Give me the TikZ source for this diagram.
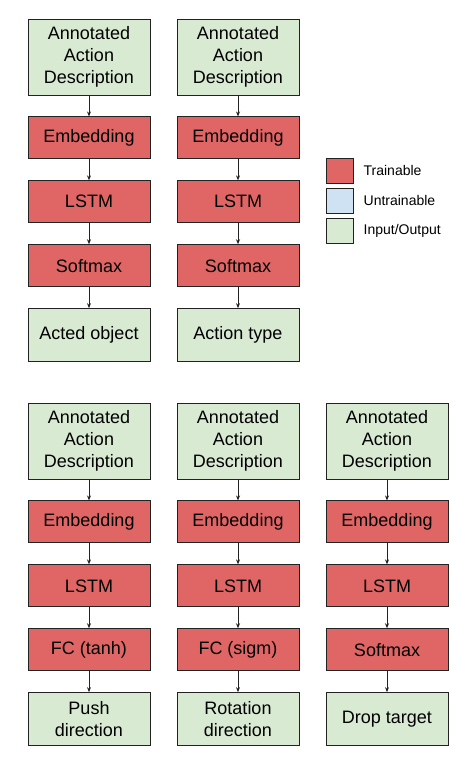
\documentclass[tikz,border=0pt]{standalone}
\usepackage{xcolor}
\usepackage{fontspec}
\setmainfont{Liberation Sans}
\usetikzlibrary{positioning,arrows.meta}
\definecolor{TrainRed}{HTML}{E06666}
\definecolor{FrozenBlue}{HTML}{CFE2F3}
\definecolor{IoGreen}{HTML}{D9EAD3}
\definecolor{EdgeGray}{HTML}{222222}

\tikzset{
  layer/.style={draw=EdgeGray, line width=0.9pt, minimum width=122pt,
                minimum height=42pt, inner sep=0pt, align=center,
                font=\fontsize{18}{22}\selectfont},
  trainbox/.style={layer, fill=TrainRed},
  inbox/.style={layer, fill=IoGreen, minimum height=76pt},
  outbox/.style={layer, fill=IoGreen, minimum height=53pt},
  flow/.style={-{Stealth[length=5pt,width=4pt]}, line width=0.8pt, EdgeGray},
  legbox/.style={draw=EdgeGray, line width=0.9pt, minimum width=27pt,
                 minimum height=25pt, inner sep=0pt},
  legtext/.style={anchor=west, inner sep=0pt, font=\fontsize{14}{16}\selectfont}
}

\begin{document}
\begin{tikzpicture}[x=1pt, y=-1pt, node distance=21pt]
  \useasboundingbox (0,0) rectangle (475,767);

  % top row: object and type
  \node[inbox] (objIn) at (89,57) {Annotated\\Action\\Description};
  \node[trainbox, below=of objIn] (objEmb) {Embedding};
  \node[trainbox, below=of objEmb] (objLstm) {LSTM};
  \node[trainbox, below=of objLstm] (objSoft) {Softmax};
  \node[outbox, below=of objSoft] (objOut) {Acted object};

  \node[inbox] (typIn) at (238,57) {Annotated\\Action\\Description};
  \node[trainbox, below=of typIn] (typEmb) {Embedding};
  \node[trainbox, below=of typEmb] (typLstm) {LSTM};
  \node[trainbox, below=of typLstm] (typSoft) {Softmax};
  \node[outbox, below=of typSoft] (typOut) {Action type};

  % bottom row: push, rotation, drop
  \node[inbox] (pshIn) at (89,441) {Annotated\\Action\\Description};
  \node[trainbox, below=of pshIn] (pshEmb) {Embedding};
  \node[trainbox, below=of pshEmb] (pshLstm) {LSTM};
  \node[trainbox, below=of pshLstm] (pshFc) {FC (tanh)};
  \node[outbox, below=of pshFc] (pshOut) {Push\\direction};

  \node[inbox] (rotIn) at (238,441) {Annotated\\Action\\Description};
  \node[trainbox, below=of rotIn] (rotEmb) {Embedding};
  \node[trainbox, below=of rotEmb] (rotLstm) {LSTM};
  \node[trainbox, below=of rotLstm] (rotFc) {FC (sigm)};
  \node[outbox, below=of rotFc] (rotOut) {Rotation\\direction};

  \node[inbox] (drpIn) at (387,441) {Annotated\\Action\\Description};
  \node[trainbox, below=of drpIn] (drpEmb) {Embedding};
  \node[trainbox, below=of drpEmb] (drpLstm) {LSTM};
  \node[trainbox, below=of drpLstm] (drpSoft) {Softmax};
  \node[outbox, below=of drpSoft] (drpOut) {Drop target};

  \foreach \a/\b in {objIn/objEmb, objEmb/objLstm, objLstm/objSoft, objSoft/objOut,
                     typIn/typEmb, typEmb/typLstm, typLstm/typSoft, typSoft/typOut,
                     pshIn/pshEmb, pshEmb/pshLstm, pshLstm/pshFc, pshFc/pshOut,
                     rotIn/rotEmb, rotEmb/rotLstm, rotLstm/rotFc, rotFc/rotOut,
                     drpIn/drpEmb, drpEmb/drpLstm, drpLstm/drpSoft, drpSoft/drpOut}
    \draw[flow] (\a) -- (\b);

  % legend
  \node[legbox, fill=TrainRed] (legTrain) at (339.5,170.5) {};
  \node[legbox, fill=FrozenBlue] (legFrozen) at (339.5,200.5) {};
  \node[legbox, fill=IoGreen] (legIo) at (339.5,230.5) {};
  \node[legtext, right=10pt of legTrain] (legTrainTxt) {Trainable};
  \node[legtext, right=10pt of legFrozen] (legFrozenTxt) {Untrainable};
  \node[legtext, right=10pt of legIo] (legIoTxt) {Input/Output};
\end{tikzpicture}
\end{document}
